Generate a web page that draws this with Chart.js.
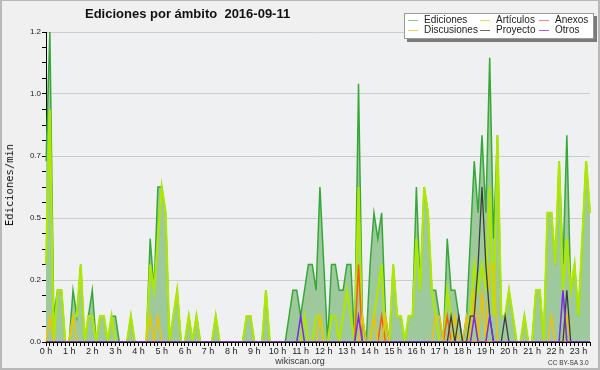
<!DOCTYPE html>
<html>
<head>
<meta charset="utf-8">
<script src="https://cdn.jsdelivr.net/npm/chart.js@4.4.1/dist/chart.umd.min.js"></script>
<style>
  body { margin: 0; background: #f0f0f0; }
  #wrap { position: relative; width: 600px; height: 370px; overflow: hidden; font-family: "Liberation Sans", Arial, sans-serif; color: #222; }
  #frame { position: absolute; left: 0; top: 0; width: 600px; height: 370px; box-sizing: border-box; border: 2px solid #b8b8b8; border-top-width: 1px; pointer-events: none; }
  .txt { position: absolute; white-space: nowrap; }
  #title { left: 85px; top: 7px; font-size: 13px; font-weight: bold; line-height: 13px; color: #111; }
  #ytitle { left: 9px; top: 185px; font-family: "DejaVu Sans Mono", monospace; font-size: 10.5px; transform: translate(-50%, -50%) rotate(-90deg); color: #111; }
  #site { left: 300px; top: 361px; font-size: 9px; transform: translate(-50%, -50%); color: #333; }
  #lic { left: 548px; top: 362px; font-size: 6.5px; transform: translateY(-50%); color: #333; }
  #legend { position: absolute; left: 404px; top: 13px; width: 190px; height: 26px; box-sizing: border-box; background: #fff; border: 1px solid #999; box-shadow: 3px 3px 0 #7a7a7a; }
  .lg { position: absolute; font-size: 10px; line-height: 10px; color: #222; transform: translateY(-50%); }
  .sw { position: absolute; width: 10px; height: 1px; }
</style>
</head>
<body>
<div id="wrap">
  <canvas id="c" width="600" height="370"></canvas>
  <div class="txt" id="title">Ediciones por ámbito&nbsp; 2016-09-11</div>
  <div class="txt" id="ytitle">Ediciones/min</div>
  <div class="txt" id="site">wikiscan.org</div>
  <div class="txt" id="lic">CC BY-SA 3.0</div>
  <div id="legend"></div>
  <div id="frame"></div>
</div>
<script>
// hour labels, one every 6 slots of 10 minutes (day ends at 23:30)
const hourLabels = ['0 h','1 h','2 h','3 h','4 h','5 h','6 h','7 h','8 h','9 h','10 h','11 h',
  '12 h','13 h','14 h','15 h','16 h','17 h','18 h','19 h','20 h','21 h','22 h','23 h'];
const slotsPerHour = 6;
const slotCount = 142;

// edits per minute, each row = 2 hours
const ediciones = [
  0.7,1.2,0.1,0.2,0.2,0,   0,0.2,0.1,0.3,0,0.1,
  0.2,0,0.1,0.1,0,0.1,     0.1,0,0,0,0.1,0,
  0,0,0,0.4,0.2,0.6,       0.6,0.5,0,0.1,0.2,0,
  0,0.1,0,0.1,0,0,         0,0,0.1,0,0,0,
  0,0,0,0,0.1,0.1,         0,0,0,0.2,0,0,
  0,0,0,0.1,0.2,0.2,       0.1,0.2,0.3,0.3,0.2,0.6,
  0.3,0,0.3,0.3,0.2,0.2,   0.3,0.3,0,1.0,0.1,0,
  0.3,0.5,0.4,0.5,0.1,0,   0.3,0.1,0.1,0,0.1,0.1,
  0.6,0.2,0.6,0.5,0.2,0.2, 0.1,0,0.4,0.2,0.2,0.1,
  0,0.1,0.4,0.7,0.5,0.8,   0.5,1.1,0.4,0.8,0.1,0.1,
  0.2,0.1,0,0,0.1,0,       0,0.2,0.2,0,0.5,0.5,
  0.3,0.7,0.3,0.8,0.2,0.3, 0.1,0.4,0.7,0.5
];
const articulos = [
  0.3,0.9,0,0.2,0.2,0,     0,0.1,0.1,0.3,0,0.1,
  0.1,0,0.1,0.1,0,0.1,     0,0,0,0,0.1,0,
  0,0,0,0.3,0.2,0.4,       0.6,0.5,0,0.1,0.2,0,
  0,0.1,0,0.1,0,0,         0,0,0.1,0,0,0,
  0,0,0,0,0.1,0.1,         0,0,0,0.2,0,0,
  0,0,0,0,0,0,             0,0.1,0,0,0.1,0.1,
  0,0,0.1,0.1,0,0.1,       0.2,0.1,0,0.6,0,0,
  0,0.1,0.2,0.3,0,0,       0.3,0.1,0.1,0,0.1,0.1,
  0.4,0.2,0.6,0.5,0.2,0.1, 0,0,0.2,0.1,0,0,
  0,0,0.1,0.3,0.2,0.3,     0.2,0.6,0.1,0.8,0.1,0.1,
  0.2,0.1,0,0,0.1,0,       0,0.2,0.2,0,0.5,0.5,
  0.3,0.7,0.2,0.4,0.2,0.3, 0.1,0.4,0.7,0.5
];
const anexos = [
  0,0,0,0,0,0, 0,0,0,0,0,0,
  0,0,0,0,0,0, 0,0,0,0,0,0,
  0,0,0,0,0,0, 0,0,0,0,0,0,
  0,0,0,0,0,0, 0,0,0,0,0,0,
  0,0,0,0,0,0, 0,0,0,0,0,0,
  0,0,0,0,0,0, 0,0,0,0,0,0,
  0,0,0,0,0,0, 0,0,0,0.3,0,0,
  0,0,0,0.1,0,0, 0,0,0,0,0,0,
  0,0,0,0,0,0, 0,0,0.1,0,0,0,
  0,0,0,0,0,0, 0,0,0,0,0,0,
  0,0,0,0,0,0, 0,0,0,0,0,0,
  0,0,0,0,0,0, 0,0,0,0
];
const discusiones = [
  0,0.1,0,0,0,0, 0,0.1,0,0,0,0,
  0,0,0,0,0,0, 0,0,0,0,0,0,
  0,0,0,0.1,0,0.1, 0,0,0,0,0,0,
  0,0,0,0,0,0, 0,0,0,0,0,0,
  0,0,0,0,0,0, 0,0,0,0,0,0,
  0,0,0,0,0,0, 0,0,0,0,0,0.1,
  0,0,0,0,0,0, 0,0,0,0,0.1,0,
  0,0.1,0,0,0.1,0, 0,0,0,0,0,0,
  0,0,0,0,0,0.1, 0.1,0,0,0,0.1,0,
  0,0.1,0,0.2,0,0.2, 0,0.3,0.3,0,0,0,
  0,0,0,0,0,0, 0,0,0,0,0,0.1,
  0,0,0,0.1,0,0, 0,0,0,0
];
const proyecto = [
  0,0,0,0,0,0, 0,0,0,0,0,0,
  0,0,0,0,0,0, 0,0,0,0,0,0,
  0,0,0,0,0,0, 0,0,0,0,0,0,
  0,0,0,0,0,0, 0,0,0,0,0,0,
  0,0,0,0,0,0, 0,0,0,0,0,0,
  0,0,0,0,0,0, 0,0,0,0,0,0,
  0,0,0,0,0,0, 0,0,0,0,0,0,
  0,0,0,0,0,0, 0,0,0,0,0,0,
  0,0,0,0,0,0, 0,0,0,0.1,0,0.1,
  0,0,0.1,0.1,0.3,0.6, 0.3,0.1,0,0,0,0.1,
  0,0,0,0,0,0, 0,0,0,0,0,0,
  0,0,0,0.2,0,0, 0,0,0,0
];
const otros = [
  0,0,0,0,0,0, 0,0,0,0,0,0,
  0,0,0,0,0,0, 0,0,0,0,0,0,
  0,0,0,0,0,0, 0,0,0,0,0,0,
  0,0,0,0,0,0, 0,0,0,0,0,0,
  0,0,0,0,0,0, 0,0,0,0,0,0,
  0,0,0,0,0,0, 0.1,0,0,0,0,0,
  0,0,0,0,0,0, 0,0,0,0.1,0,0,
  0,0,0,0,0,0, 0,0,0,0,0,0,
  0,0,0,0,0,0, 0,0,0,0,0,0,
  0,0,0,0.1,0,0, 0,0.1,0,0,0,0,
  0,0,0,0,0,0, 0,0,0,0,0,0,
  0,0,0.2,0,0,0, 0,0,0,0
];

const yMax = 1.2;
const yStep = 0.06;   // minor tick, labels every 4th

const labels = [];
for (let i = 0; i < slotCount; i++) {
  labels.push(i % slotsPerHour === 0 ? hourLabels[i / slotsPerHour] : '');
}

const series = [
  { label: 'Ediciones', data: ediciones, color: '#37a837', legend: '#86c886', width: 1.5, fill: true },
  { label: 'Artículos', data: articulos, color: '#aee800', legend: '#cdea5a', width: 2.2 },
  { label: 'Anexos', data: anexos, color: '#ff5a10', legend: '#f08a5a', width: 1.5 },
  { label: 'Discusiones', data: discusiones, color: '#f2c200', legend: '#f2d25a', width: 1.5 },
  { label: 'Proyecto', data: proyecto, color: '#3c3c3c', legend: '#6a6a6a', width: 1.3 },
  { label: 'Otros', data: otros, color: '#7b2be0', legend: '#9a5ef0', width: 1.5 },
];

// legend box, 3 columns x 2 rows like the original
const legendPos = [
  [408, 19.5], [480, 19.5], [539, 19.5],
  [408, 29.5], [480, 29.5], [539, 29.5],
];
const wrap = document.getElementById('wrap');
series.forEach((s, k) => {
  const [x, y] = legendPos[k];
  const sw = document.createElement('div');
  sw.className = 'sw';
  sw.style.left = x + 'px';
  sw.style.top = Math.round(y) + 'px';
  sw.style.background = s.legend;
  wrap.appendChild(sw);
  const t = document.createElement('div');
  t.className = 'lg';
  t.style.left = (x + 16) + 'px';
  t.style.top = y + 'px';
  t.textContent = s.label;
  wrap.appendChild(t);
});

const background = {
  id: 'background',
  beforeDraw(chart) {
    const { ctx, chartArea: a } = chart;
    ctx.save();
    ctx.fillStyle = '#f0f0f0';
    ctx.fillRect(0, 0, chart.width, chart.height);
    ctx.fillStyle = '#eef0f2';
    ctx.fillRect(a.left, a.top, a.right - a.left, a.bottom - a.top);
    ctx.restore();
  }
};

new Chart(document.getElementById('c'), {
  type: 'line',
  data: {
    labels,
    datasets: series.map((s, i) => ({
      label: s.label,
      data: s.data,
      borderColor: s.color,
      borderWidth: s.width,
      backgroundColor: s.fill ? '#9dc99d' : s.color,
      fill: s.fill ? 'origin' : false,
      pointRadius: 0,
      tension: 0,
      order: 10 - i,
    }))
  },
  options: {
    responsive: false,
    animation: false,
    devicePixelRatio: 1,
    layout: { padding: { left: 0, right: 10, top: 32, bottom: 0 } },
    plugins: { legend: { display: false }, title: { display: false }, tooltip: { enabled: false } },
    scales: {
      x: {
        type: 'category',
        offset: false,
        afterFit: (s) => { s.height = 28; },
        border: { display: true, color: '#000', width: 1 },
        grid: { display: true, drawOnChartArea: false, drawTicks: true, tickLength: 4, color: '#000' },
        ticks: {
          autoSkip: false, maxRotation: 0, minRotation: 0, padding: 0,
          color: '#222', font: { family: '"Liberation Sans", Arial', size: 9 },
          callback: (v, i) => labels[i],
        },
      },
      y: {
        min: 0,
        max: yMax,
        afterFit: (s) => { s.width = 46; },
        afterBuildTicks: (s) => {
          const t = [];
          for (let i = 0; i * yStep <= yMax + 1e-9; i++) t.push({ value: +(i * yStep).toFixed(2) });
          s.ticks = t;
        },
        border: { display: true, color: '#000', width: 1 },
        grid: {
          drawTicks: true, tickLength: 4, tickColor: '#000',
          color: (c) => (c.index % 4 === 0 && c.index > 0) ? '#cccccc' : 'rgba(0,0,0,0)',
        },
        ticks: {
          autoSkip: false, padding: 1,
          color: '#222', font: { family: '"Liberation Sans", Arial', size: 8 },
          callback: (v, i) => i % 4 === 0 ? v.toFixed(1) : '',
        },
      },
    },
  },
  plugins: [background],
});
</script>
</body>
</html>
